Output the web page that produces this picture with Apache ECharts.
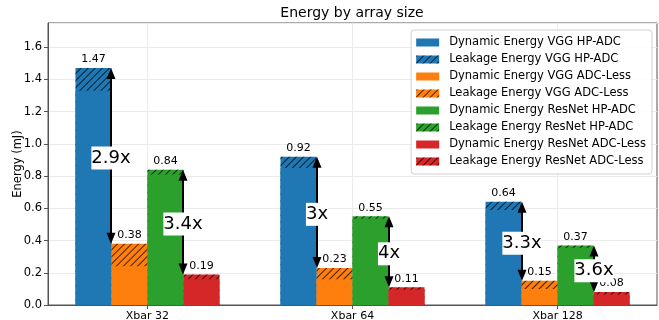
<!DOCTYPE html>
<html>
<head>
<meta charset="utf-8">
<title>Energy by array size</title>
<script src="https://cdn.jsdelivr.net/npm/echarts@6/dist/echarts.min.js"></script>
<style>
  html, body { margin: 0; padding: 0; background: #fff; }
  #chart { width: 659px; height: 320px; }
</style>
</head>
<body>
<div id="chart"></div>
<script>
// Array sizes on the x axis
const categories = ['Xbar 32', 'Xbar 64', 'Xbar 128'];

// Energy in mJ, split into dynamic and leakage parts
const vggHpDynamic     = [1.33, 0.85, 0.59];
const vggHpLeakage     = [0.14, 0.07, 0.05];
const vggLessDynamic   = [0.24, 0.16, 0.10];
const vggLessLeakage   = [0.14, 0.07, 0.05];
const resHpDynamic     = [0.81, 0.535, 0.355];
const resHpLeakage     = [0.03, 0.015, 0.015];
const resLessDynamic   = [0.16, 0.095, 0.065];
const resLessLeakage   = [0.03, 0.015, 0.015];

// Improvement labels, HP-ADC vs ADC-Less
const vggRatioLabels = ['2.9x', '3x', '3.3x'];
const resRatioLabels = ['3.4x', '4x', '3.6x'];

const FONT = 'DejaVu Sans';
const BAR_W = 36;
const HEAD_W = 9;
const HEAD_L = 11;
const COLORS = ['#1f77b4', '#ff7f0e', '#2ca02c', '#d62728'];

// "//" hatching for the leakage parts
const hatch = {
  symbol: 'rect',
  symbolSize: 1,
  dashArrayX: [1, 0],
  dashArrayY: [1, 4],
  rotation: -Math.PI / 4,
  color: 'rgba(0,0,0,0.75)'
};

const totalOf = (dyn, leak) => dyn.map((v, i) => +(v + leak[i]).toFixed(3));
const pts = arr => arr.map((v, i) => [i, v]);

const groups = [
  { key: 'VGG HP-ADC',       dyn: vggHpDynamic,   leak: vggHpLeakage },
  { key: 'VGG ADC-Less',     dyn: vggLessDynamic, leak: vggLessLeakage },
  { key: 'ResNet HP-ADC',    dyn: resHpDynamic,   leak: resHpLeakage },
  { key: 'ResNet ADC-Less',  dyn: resLessDynamic, leak: resLessLeakage }
];

const series = [];
const legendNames = [];
groups.forEach((g, k) => {
  const dynName = 'Dynamic Energy ' + g.key;
  const leakName = 'Leakage Energy ' + g.key;
  legendNames.push(dynName, leakName);
  // full-height hatched bar (dynamic + leakage) sits behind the dynamic bar
  series.push({
    name: leakName,
    type: 'bar',
    xAxisIndex: 1,
    yAxisIndex: 0,
    barWidth: BAR_W,
    barGap: '0%',
    z: 2,
    data: pts(totalOf(g.dyn, g.leak)),
    itemStyle: { color: COLORS[k], decal: hatch },
    label: {
      show: true,
      position: 'top',
      distance: 3,
      fontFamily: FONT,
      fontSize: 11,
      color: '#000',
      formatter: p => p.value[1].toFixed(2)
    }
  });
  series.push({
    name: dynName,
    type: 'bar',
    xAxisIndex: 0,
    yAxisIndex: 0,
    barWidth: BAR_W,
    barGap: '0%',
    z: 3,
    data: pts(g.dyn),
    itemStyle: { color: COLORS[k] }
  });
});

// double-headed arrows between the HP-ADC and ADC-Less totals
const vggHpTotal = totalOf(vggHpDynamic, vggHpLeakage);
const vggLessTotal = totalOf(vggLessDynamic, vggLessLeakage);
const resHpTotal = totalOf(resHpDynamic, resHpLeakage);
const resLessTotal = totalOf(resLessDynamic, resLessLeakage);
const arrowRows = [];
const arrowTexts = [];
categories.forEach((c, i) => {
  arrowRows.push([i, vggHpTotal[i], vggLessTotal[i], -1]);
  arrowTexts.push(vggRatioLabels[i]);
  arrowRows.push([i, resHpTotal[i], resLessTotal[i], 1]);
  arrowTexts.push(resRatioLabels[i]);
});

series.push({
  type: 'custom',
  name: 'ratio',
  xAxisIndex: 0,
  yAxisIndex: 0,
  z: 10,
  clip: false,
  silent: true,
  encode: { x: 0, y: [1, 2] },
  data: arrowRows,
  renderItem: function (params, api) {
    const i = api.value(0);
    const side = api.value(3);
    const x = Math.round(api.coord([i, 0])[0] + side * BAR_W);
    const yTop = api.coord([i, api.value(1)])[1];
    const yBot = api.coord([i, api.value(2)])[1];
    const midY = (yTop + yBot) / 2 + 2;
    return {
      type: 'group',
      children: [
        { type: 'line', shape: { x1: x, y1: yTop + HEAD_L - 1, x2: x, y2: yBot - HEAD_L + 1 },
          style: { stroke: '#000', lineWidth: 2 } },
        { type: 'polygon', shape: { points: [[x, yTop], [x - HEAD_W / 2, yTop + HEAD_L], [x + HEAD_W / 2, yTop + HEAD_L]] },
          style: { fill: '#000' } },
        { type: 'polygon', shape: { points: [[x, yBot], [x - HEAD_W / 2, yBot - HEAD_L], [x + HEAD_W / 2, yBot - HEAD_L]] },
          style: { fill: '#000' } },
        { type: 'text', x: x, y: midY, z2: 5,
          style: { text: arrowTexts[params.dataIndex], align: 'center', verticalAlign: 'middle',
                   fontFamily: FONT, fontSize: 18, fill: '#000', backgroundColor: '#fff',
                   padding: [1, 0], lineHeight: 21 } }
      ]
    };
  }
});

const X_MIN = -0.485, X_MAX = 2.485;
const tickIdx = categories.map((c, i) => i);
const axisGray = '#555';

const chart = echarts.init(document.getElementById('chart'), null, { renderer: 'canvas' });
chart.setOption({
  animation: false,
  backgroundColor: '#fff',
  textStyle: { fontFamily: FONT },
  title: {
    text: 'Energy by array size',
    left: 352,
    textAlign: 'center',
    top: 6,
    padding: 0,
    textStyle: { fontFamily: FONT, fontSize: 14, fontWeight: 'normal', color: '#000' }
  },
  legend: {
    data: legendNames,
    orient: 'vertical',
    right: 7,
    top: 30,
    padding: [6, 6, 6, 5],
    itemWidth: 23,
    itemHeight: 8,
    itemGap: 4,
    icon: 'rect',
    backgroundColor: 'rgba(255,255,255,0.85)',
    borderColor: '#d0d0d0',
    borderWidth: 1,
    borderRadius: 3,
    textStyle: { fontFamily: FONT, fontSize: 11.5, color: '#000', lineHeight: 13, padding: [0, 0, 0, 5] },
    selectedMode: false
  },
  grid: {
    left: 48, right: 2, top: 23, bottom: 15,
    outerBoundsMode: 'none',
    containLabel: false,
    show: true, borderColor: axisGray, borderWidth: 1, backgroundColor: 'transparent'
  },
  xAxis: [
    {
      type: 'value', min: X_MIN, max: X_MAX,
      axisLine: { show: true, onZero: false, lineStyle: { color: axisGray } },
      axisTick: { show: true, customValues: tickIdx, length: 4, lineStyle: { color: axisGray } },
      axisLabel: {
        customValues: tickIdx, margin: 6, fontFamily: FONT, fontSize: 11, color: '#000',
        formatter: v => categories[Math.round(v)]
      },
      splitLine: { show: true, lineStyle: { color: '#ebebeb', width: 1 } }
    },
    {
      type: 'value', min: X_MIN, max: X_MAX, show: false,
      splitLine: { show: false }
    }
  ],
  yAxis: {
    type: 'value', min: 0, max: 1.75, interval: 0.2,
    name: 'Energy (mJ)', nameLocation: 'middle', nameGap: 24, nameMoveOverlap: false,
    nameTextStyle: { fontFamily: FONT, fontSize: 11.5, color: '#000' },
    axisLine: { show: true, onZero: false, lineStyle: { color: axisGray } },
    axisTick: { show: true, length: 4, lineStyle: { color: axisGray } },
    axisLabel: { margin: 6, fontFamily: FONT, fontSize: 11.5, color: '#000', showMaxLabel: false,
                 formatter: v => v.toFixed(1) },
    splitLine: { show: true, lineStyle: { color: '#ebebeb', width: 1 } }
  },
  series: series
});
</script>
</body>
</html>
